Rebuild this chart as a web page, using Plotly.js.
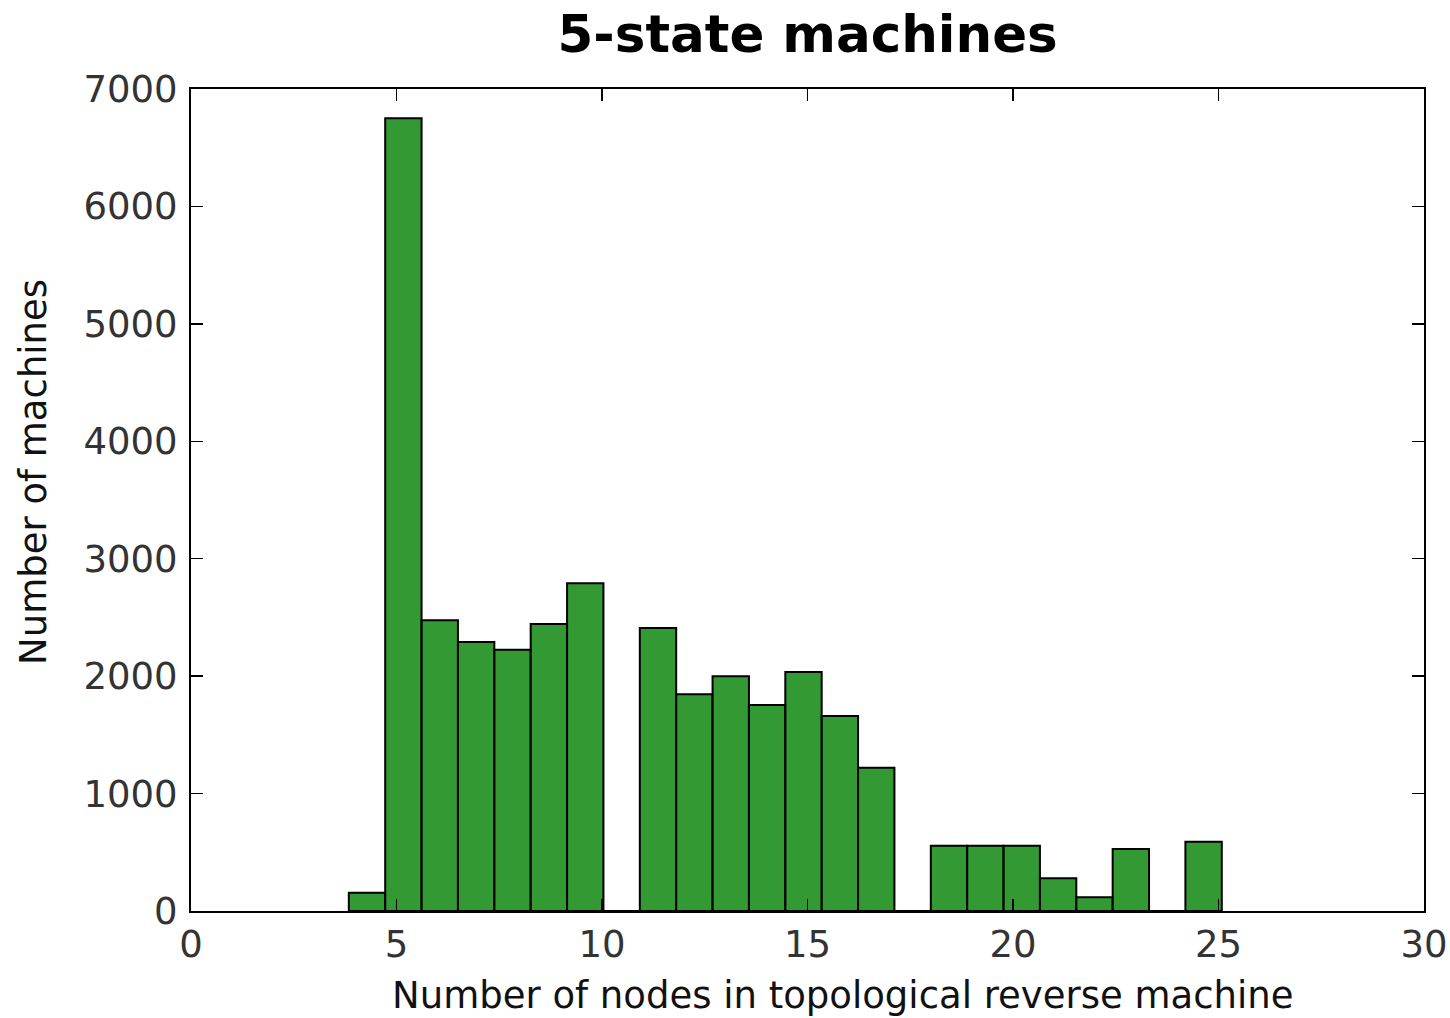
<!DOCTYPE html>
<html>
<head>
<meta charset="utf-8">
<script src="https://cdn.plot.ly/plotly-3.0.1.min.js"></script>
<style>html,body{margin:0;padding:0;background:#fff;}#chart{width:1450px;height:1018px;}</style>
</head>
<body>
<div id="chart"></div>
<script>
// Histogram data
const binStart = 3.84;
const binWidth = 0.885;
const counts = [155, 6750, 2475, 2290, 2225, 2445, 2790, 0, 2410, 1845, 2000, 1755, 2035, 1660, 1220, 0, 555, 555, 555, 278, 118, 528, 0, 590];
const xTicks = [0, 5, 10, 15, 20, 25, 30];
const yTicks = [0, 1000, 2000, 3000, 4000, 5000, 6000, 7000];
const titleText = "5-state machines";
const xLabel = "Number of nodes in topological reverse machine";
const yLabel = "Number of machines";

const centers = counts.map((_, i) => binStart + binWidth * (i + 0.5));

const font = "DejaVu Sans, sans-serif";
const trace = {
  type: "bar",
  x: centers,
  y: counts,
  width: binWidth,
  marker: {color: "rgba(0,128,0,0.8)", line: {color: "#000", width: 2}},
  hoverinfo: "x+y"
};

const layout = {
  width: 1450, height: 1018,
  margin: {l: 191, r: 26, t: 89, b: 107},
  paper_bgcolor: "#fff", plot_bgcolor: "#fff",
  showlegend: false,
  title: {text: "<b>" + titleText + "</b>", font: {family: font, size: 51.5, color: "#000"}, x: 0.557, xanchor: "center", y: 0.967, yanchor: "middle"},
  xaxis: {
    range: [0, 30], tickvals: xTicks, ticktext: xTicks.map(String),
    showline: true, linecolor: "#000", linewidth: 2, mirror: "ticks",
    ticks: "inside", ticklen: 12, tickwidth: 1.5, tickcolor: "#000",
    showgrid: false, zeroline: false,
    tickfont: {family: font, size: 37, color: "#333"}
  },
  yaxis: {
    range: [0, 7000], tickvals: yTicks, ticktext: yTicks.map(String),
    showline: true, linecolor: "#000", linewidth: 2, mirror: "ticks",
    ticks: "inside", ticklen: 12, tickwidth: 1.5, tickcolor: "#000",
    showgrid: false, zeroline: false, ticklabelstandoff: 4,
    tickfont: {family: font, size: 37, color: "#333"}
  },
  annotations: [
    {text: xLabel, xref: "paper", yref: "paper", x: (843 - 191) / 1233, y: -(995 - 911) / 822,
     xanchor: "center", yanchor: "middle", showarrow: false, font: {family: font, size: 37, color: "#111"}},
    {text: yLabel, xref: "paper", yref: "paper", x: (33 - 191) / 1233, y: (911 - 472) / 822,
     xanchor: "center", yanchor: "middle", textangle: -90, showarrow: false, font: {family: font, size: 37, color: "#111"}}
  ],
  bargap: 0
};

Plotly.newPlot("chart", [trace], layout, {displayModeBar: false, staticPlot: true});
</script>
</body>
</html>
